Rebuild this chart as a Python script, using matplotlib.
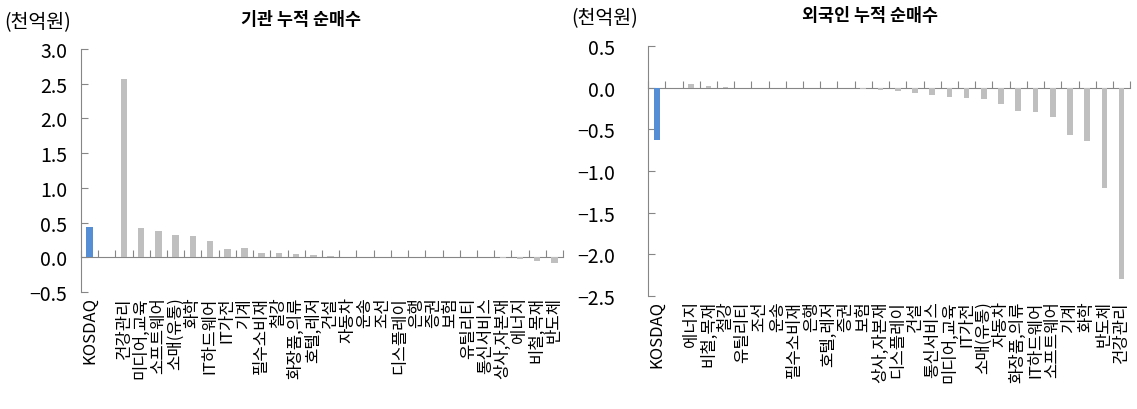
import matplotlib.pyplot as plt
import numpy as np

plt.rcParams['font.family'] = ['Noto Sans CJK KR', 'DejaVu Sans']

# 기관 누적 순매수 (천억원)
inst_labels = ['KOSDAQ', '', '건강관리', '미디어,교육', '소프트웨어', '소매(유통)', '화학',
               'IT하드웨어', 'IT가전', '기계', '필수소비재', '철강', '화장품,의류', '호텔,레저',
               '건설', '자동차', '운송', '조선', '디스플레이', '은행', '증권', '보험',
               '유틸리티', '통신서비스', '상사,자본재', '에너지', '비철,목재', '반도체']
inst_values = [0.44, 0.0, 2.57, 0.42, 0.38, 0.32, 0.30,
               0.235, 0.125, 0.13, 0.066, 0.058, 0.043, 0.029,
               0.015, 0.008, 0.0, 0.0, 0.0, 0.0, 0.0, 0.0,
               0.0, 0.0, -0.005, -0.03, -0.055, -0.08]

# 외국인 누적 순매수 (천억원)
frgn_labels = ['KOSDAQ', '', '에너지', '비철,목재', '철강', '유틸리티', '조선',
               '운송', '필수소비재', '은행', '호텔,레저', '증권', '보험', '상사,자본재',
               '디스플레이', '건설', '통신서비스', '미디어,교육', 'IT가전', '소매(유통)', '자동차',
               '화장품,의류', 'IT하드웨어', '소프트웨어', '기계', '화학', '반도체', '건강관리']
frgn_values = [-0.63, 0.0, 0.045, 0.02, 0.005, 0.0, 0.0,
               0.0, 0.0, 0.0, 0.0, 0.0, -0.016, -0.03,
               -0.045, -0.07, -0.09, -0.11, -0.13, -0.14, -0.2,
               -0.28, -0.29, -0.35, -0.57, -0.64, -1.2, -2.3]

BLUE = '#558ed5'
GRAY = '#bfbfbf'
AXIS = '#868686'

fig = plt.figure(figsize=(11.37, 4.10), dpi=100)
ax1 = fig.add_axes([0.0712, 0.2854, 0.424, 0.593])
ax2 = fig.add_axes([0.570, 0.2756, 0.424, 0.610])


def draw(ax, labels, values, ylim, yticks, width, ypad):
    n = len(values)
    x = np.arange(n)
    colors = [BLUE] + [GRAY] * (n - 1)
    ax.bar(x, values, width=width, color=colors, zorder=2)
    ax.set_xlim(-0.5, n - 0.5)
    ax.set_ylim(*ylim)
    ax.set_yticks(yticks)
    ax.set_yticklabels(['{:.1f}'.format(v).replace('-', '\u2212') for v in yticks])
    ax.tick_params(axis='y', direction='in', length=5, color=AXIS, labelsize=14, pad=ypad)
    for s in ['top', 'right', 'bottom']:
        ax.spines[s].set_visible(False)
    ax.spines['left'].set_color(AXIS)
    ax.set_xticks(x)
    ax.set_xticklabels(labels, rotation=90, fontsize=12, va='top', ha='center')
    ax.tick_params(axis='x', length=0, pad=3)
    # zero line with category boundary ticks
    sec = ax.secondary_xaxis(0, transform=ax.transData)
    sec.set_xticks(np.arange(n + 1) - 0.5)
    sec.tick_params(direction='in', length=5, color=AXIS, labelbottom=False)
    sec.spines['bottom'].set_color(AXIS)


draw(ax1, inst_labels, inst_values, (-0.5, 3.0), np.arange(-0.5, 3.01, 0.5), 0.38, 10)
draw(ax2, frgn_labels, frgn_values, (-2.5, 0.5), np.arange(-2.5, 0.51, 0.5), 0.33, 24)

fig.text(0.004, 0.945, '(천억원)', fontsize=14, ha='left', va='center')
fig.text(0.265, 0.952, '기관 누적 순매수', fontsize=12.5, fontweight='bold', ha='center', va='center')
fig.text(0.502, 0.955, '(천억원)', fontsize=14, ha='left', va='center')
fig.text(0.765, 0.96, '외국인 누적 순매수', fontsize=12.5, fontweight='bold', ha='center', va='center')

plt.savefig('out.png')
